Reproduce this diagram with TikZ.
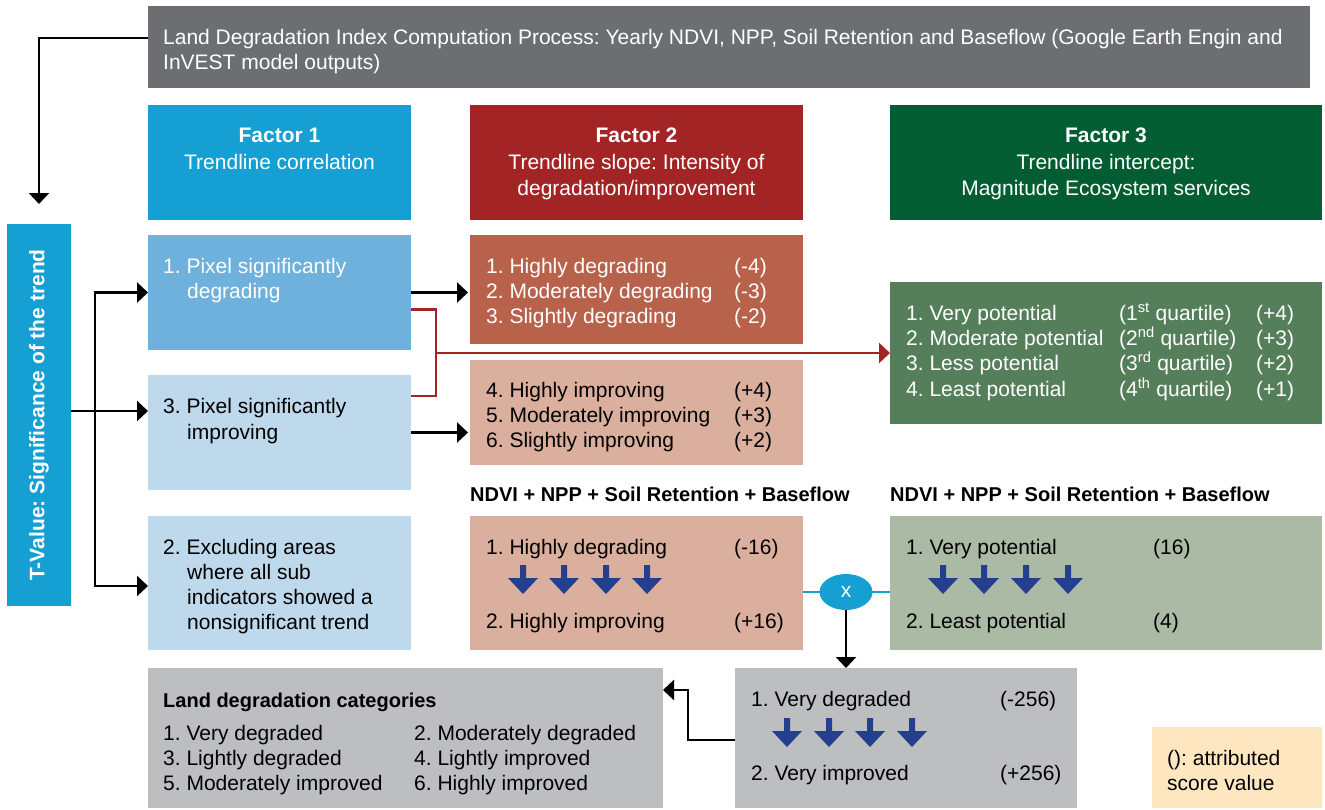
\documentclass[tikz,border=0pt]{standalone}
\usepackage{fontspec}
\setmainfont{Liberation Sans}
\usepackage{xcolor}
\definecolor{ldgrey}{RGB}{109,110,113}
\definecolor{fblue}{RGB}{21,159,211}
\definecolor{fred}{RGB}{163,36,36}
\definecolor{fgreen}{RGB}{2,94,50}
\definecolor{pblue}{RGB}{110,177,220}
\definecolor{lblue}{RGB}{190,216,236}
\definecolor{brick}{RGB}{185,98,75}
\definecolor{salmon}{RGB}{219,175,157}
\definecolor{mgreen}{RGB}{85,127,90}
\definecolor{sage}{RGB}{171,186,165}
\definecolor{lgrey}{RGB}{188,190,192}
\definecolor{peach}{RGB}{253,230,192}
\definecolor{arrblue}{RGB}{37,63,143}
\usepackage{tikz}
\usetikzlibrary{shapes.geometric, arrows.meta, positioning, calc}
\newcommand\ldf{\fontsize{21}{25}\selectfont\frenchspacing}
\newcommand\ldb{\fontsize{20}{25}\selectfont\bfseries}

\begin{document}
\begin{tikzpicture}[x=1pt,y=-1pt,
  box/.style={anchor=north west, inner sep=0pt, outer sep=0pt, draw=none},
  wtxt/.style={anchor=base west, inner sep=0pt, text=white, font=\ldf},
  btxt/.style={anchor=base west, inner sep=0pt, text=black, font=\ldf},
  head/.style={anchor=base, inner sep=0pt, text=white, font=\ldf},
  arr/.style={line width=2.5pt, -{Triangle[width=20pt,length=11pt]}},
  dnarr/.pic={\fill[arrblue] (-3,0) -- (3,0) -- (3,13) -- (15,13) -- (0,29) -- (-15,13) -- (-3,13) -- cycle;}]
\useasboundingbox (0,0) rectangle (1325,809);

\foreach \nm/\x/\y/\w/\h/\col in {
  title/148/6/1162/82/ldgrey,
  fa/148/105/263/115/fblue,
  fb/470/105/333/115/fred,
  fc/890/105/432/115/fgreen,
  tval/7/224/64/382/fblue,
  pxd/148/235/263/115/pblue,
  pxi/148/375/263/115/lblue,
  exc/148/516/263/134/lblue,
  dg/470/235/333/109/brick,
  im/470/360/333/105/salmon,
  q3/890/282/432/142/mgreen,
  s2/470/516/333/134/salmon,
  s3/890/516/432/134/sage,
  fin/735/668/342/140/lgrey,
  cat/148/668/515/140/lgrey,
  key/1152/727/170/81/peach}
{
  \node[box, fill=\col, minimum width=\w pt, minimum height=\h pt] (\nm) at (\x,\y) {};
}

% header and factors
\node[wtxt] (tt1) at (163,44) {Land Degradation Index Computation Process: Yearly NDVI, NPP, Soil Retention and Baseflow (Google Earth Engin and};
\node[wtxt] (tt2) at (163,69) {InVEST model outputs)};
\node[head, font=\ldf\bfseries] (fah) at (279.5,142) {Factor 1};
\node[head] (fa1) at (279.5,169) {Trendline correlation};
\node[head, font=\ldf\bfseries] (fbh) at (636.5,142) {Factor 2};
\node[head] (fb1) at (636.5,169) {Trendline slope: Intensity of};
\node[head] (fb2) at (636.5,195) {degradation/improvement};
\node[head, font=\ldf\bfseries] (fch) at (1106,142) {Factor 3};
\node[head] (fc1) at (1106,169) {Trendline intercept:};
\node[head] (fc2) at (1106,195) {Magnitude Ecosystem services};
\node[rotate=90, inner sep=0pt, text=white, font=\ldf\bfseries] (tvt) at (tval.center) {T-Value: Significance of the trend};

% factor 1
\node[wtxt] (pd1) at (163,273) {1. Pixel significantly};
\node[wtxt] (pd2) at (187,298) {degrading};
\node[btxt] (pi1) at (163,413) {3. Pixel significantly};
\node[btxt] (pi2) at (187,439) {improving};
\foreach \i/\y/\t in {1/554/2. Excluding areas, 2/579/where all sub, 3/604/indicators showed a, 4/629/nonsignificant trend}
{
  \pgfmathsetmacro\xt{ifthenelse(\i==1,163,187)}
  \node[btxt] (ex\i) at (\xt,\y) {\t};
}

% factor 2
\foreach \i/\y/\t/\v in {1/273/Highly degrading/(-4), 2/298/Moderately degrading/(-3), 3/323/Slightly degrading/(-2)}
{
  \node[wtxt] (dgt\i) at (486,\y) {\i. \t};
  \node[wtxt] (dgv\i) at (734,\y) {\v};
}
\foreach \i/\y/\t/\v in {4/397/Highly improving/(+4), 5/422/Moderately improving/(+3), 6/447/Slightly improving/(+2)}
{
  \node[btxt] (imt\i) at (486,\y) {\i. \t};
  \node[btxt] (imv\i) at (734,\y) {\v};
}

% factor 3
\foreach \i/\y/\t/\q/\v in {
  1/320/Very potential/1\textsuperscript{st}/+4,
  2/345/Moderate potential/2\textsuperscript{nd}/+3,
  3/370/Less potential/3\textsuperscript{rd}/+2,
  4/396/Least potential/4\textsuperscript{th}/+1}
{
  \node[wtxt] (qt\i) at (906,\y) {\i. \t};
  \node[wtxt] (qq\i) at (1119,\y) {(\q{} quartile)};
  \node[wtxt] (qv\i) at (1256,\y) {(\v)};
}

% sums
\node[btxt, font=\ldb] (sum2h) at (470,501) {NDVI + NPP + Soil Retention + Baseflow};
\node[btxt, font=\ldb] (sum3h) at (890,501) {NDVI + NPP + Soil Retention + Baseflow};
\node[btxt] (s2a) at (486,554) {1. Highly degrading};
\node[btxt] (s2av) at (734,554) {(-16)};
\node[btxt] (s2b) at (486,628) {2. Highly improving};
\node[btxt] (s2bv) at (734,628) {(+16)};
\node[btxt] (s3a) at (906,554) {1. Very potential};
\node[btxt] (s3av) at (1153,554) {(16)};
\node[btxt] (s3b) at (906,628) {2. Least potential};
\node[btxt] (s3bv) at (1153,628) {(4)};
\node[btxt] (fna) at (751,706) {1. Very degraded};
\node[btxt] (fnav) at (1000,706) {(-256)};
\node[btxt] (fnb) at (751,780) {2. Very improved};
\node[btxt] (fnbv) at (1000,780) {(+256)};
\foreach \xa in {523,564,606,647} \pic at (\xa,565) {dnarr};
\foreach \xa in {943,984,1026,1068} \pic at (\xa,565) {dnarr};
\foreach \xa in {787,829,870,912} \pic at (\xa,718) {dnarr};

% categories and key
\node[btxt, font=\ldb] (cath) at (163,707) {Land degradation categories};
\foreach \i/\y/\a/\b in {1/740/1. Very degraded/2. Moderately degraded, 2/765/3. Lightly degraded/4. Lightly improved, 3/790/5. Moderately improved/6. Highly improved}
{
  \node[btxt] (ca\i) at (163,\y) {\a};
  \node[btxt] (cb\i) at (414,\y) {\b};
}
\node[btxt] (key1) at (1167,765) {(): attributed};
\node[btxt] (key2) at (1167,790) {score value};

% connectors
\coordinate (jt) at (95,411);
\coordinate (rj) at (436,353);
\coordinate (ck) at (688,690);
\coordinate (xc) at (846,592);
\draw[arr, shorten >=20pt] ([yshift=9pt]title.west) -| (tval.north);
\draw[arr] (tval.east |- jt) -- (jt -| pxi.west);
\draw[arr] (jt) |- (pxd.west);
\draw[arr] (jt) |- ([yshift=-3pt]exc.west);
\draw[arr, shorten >=2pt] (pxd.east) -- (pxd.east -| dg.west);
\draw[arr, shorten >=2pt] (pxi.east) -- (pxi.east -| im.west);
\draw[fred, line width=2.5pt] ([yshift=-17pt]pxd.east) -| (rj) |- ([yshift=36.5pt]pxi.east);
\draw[fred, line width=2.5pt, -{Triangle[width=20pt,length=11pt]}] (rj) -- (rj -| q3.west);
\draw[fblue, line width=2.5pt] (xc -| s2.east) -- (xc -| s3.west);
\node[ellipse, fill=fblue, minimum width=53pt, minimum height=36pt, inner sep=0pt, text=white, font=\ldf] (xx) at (xc) {x};
\draw[arr] (xx.south) -- (xx.south |- fin.north);
\draw[arr] (fin.west |- 0,740) -| (ck) -- (ck -| cat.east);
\end{tikzpicture}
\end{document}
